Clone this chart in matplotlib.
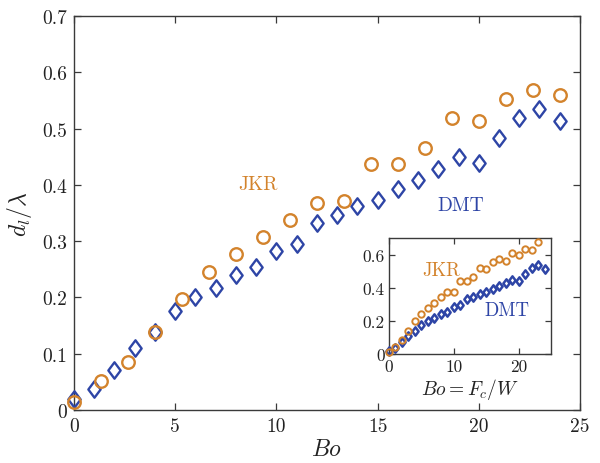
import matplotlib
matplotlib.use("Agg")
import matplotlib.pyplot as plt
from matplotlib.path import Path
from matplotlib.ticker import FuncFormatter

plt.rcParams['font.family'] = 'serif'
plt.rcParams['font.serif'] = ['cmr10', 'DejaVu Serif']
plt.rcParams['mathtext.fontset'] = 'cm'
plt.rcParams['axes.formatter.use_mathtext'] = True

# ---- main data ----
jkr_bo = [0, 1.33, 2.67, 4, 5.33, 6.67, 8, 9.33, 10.67, 12, 13.33, 14.67,
          16, 17.33, 18.67, 20, 21.33, 22.67, 24]
jkr_d = [0.015, 0.051, 0.086, 0.139, 0.198, 0.245, 0.278, 0.308, 0.337, 0.367,
         0.372, 0.437, 0.437, 0.466, 0.519, 0.514, 0.552, 0.569, 0.560]

dmt_bo = [0, 1, 2, 3, 4, 5, 6, 7, 8, 9, 10, 11, 12, 13, 14, 15, 16, 17, 18,
          19, 20, 21, 22, 23, 24]
dmt_d = [0.019, 0.038, 0.071, 0.110, 0.139, 0.176, 0.200, 0.216, 0.240, 0.254,
         0.282, 0.295, 0.332, 0.346, 0.362, 0.374, 0.393, 0.409, 0.428, 0.449,
         0.439, 0.484, 0.519, 0.535, 0.514]

# ---- inset data ----
ins_jkr_bo = [0, 1, 2, 3, 4, 5, 6, 7, 8, 9, 10, 11, 12, 13, 14, 15, 16, 17,
              18, 19, 20, 21, 22, 23]
ins_jkr_d = [0.01, 0.045, 0.086, 0.137, 0.20, 0.242, 0.277, 0.307, 0.342,
             0.373, 0.375, 0.44, 0.44, 0.467, 0.52, 0.515, 0.557, 0.574, 0.56,
             0.608, 0.60, 0.635, 0.63, 0.676]
ins_dmt_bo = dmt_bo
ins_dmt_d = dmt_d

main_xticks = [0, 5, 10, 15, 20, 25]
main_yticks = [0, 0.1, 0.2, 0.3, 0.4, 0.5, 0.6, 0.7]
ins_xticks = [0, 10, 20]
ins_yticks = [0, 0.2, 0.4, 0.6]

ORANGE = '#D3832C'
BLUE = '#2E45A6'
SPINE = '#3a3a3a'

diamond = Path([(0, 1), (0.75, 0), (0, -1), (-0.75, 0), (0, 1)],
               [Path.MOVETO, Path.LINETO, Path.LINETO, Path.LINETO, Path.CLOSEPOLY])

def fmt(v, pos):
    if abs(v) < 1e-9:
        return '0'
    if abs(v - round(v)) < 1e-9:
        return '%d' % round(v)
    return '%.1f' % v

fig = plt.figure(figsize=(6.0, 4.64), dpi=100)
ax = fig.add_axes([0.1233, 0.1142, 0.8433, 0.8491])

ax.plot(dmt_bo, dmt_d, linestyle='none', marker=diamond, markersize=11.8,
        markerfacecolor='none', markeredgecolor=BLUE, markeredgewidth=1.7,
        clip_on=False, zorder=3)
ax.plot(jkr_bo, jkr_d, linestyle='none', marker='o', markersize=9.0,
        markerfacecolor='none', markeredgecolor=ORANGE, markeredgewidth=1.7,
        clip_on=False, zorder=4)

ax.set_xlim(0, 25)
ax.set_ylim(0, 0.7)
ax.set_xticks(main_xticks)
ax.set_yticks(main_yticks)
ax.xaxis.set_major_formatter(FuncFormatter(fmt))
ax.yaxis.set_major_formatter(FuncFormatter(fmt))
ax.tick_params(direction='in', top=True, right=True, length=5, width=0.9,
               colors=SPINE, labelcolor='#222222', labelsize=14, pad=5)
for s in ax.spines.values():
    s.set_color(SPINE)
    s.set_linewidth(1.0)

ax.set_xlabel(r'$Bo$', fontsize=17, color='#222222', labelpad=2)
ax.set_ylabel(r'$d_l/\lambda$', fontsize=17, color='#222222', labelpad=6)

ax.text(9.1, 0.401, 'JKR', color=ORANGE, fontsize=14, ha='center', va='center')
ax.text(19.1, 0.365, 'DMT', color=BLUE, fontsize=14, ha='center', va='center')

# ---- inset ----
ia = fig.add_axes([0.6483, 0.2349, 0.27, 0.25])
ia.plot(ins_dmt_bo, ins_dmt_d, linestyle='none', marker=diamond, markersize=6.0,
        markerfacecolor='none', markeredgecolor=BLUE, markeredgewidth=1.8,
        clip_on=False, zorder=3)
ia.plot(ins_jkr_bo, ins_jkr_d, linestyle='none', marker='o', markersize=4.6,
        markerfacecolor='none', markeredgecolor=ORANGE, markeredgewidth=1.4,
        clip_on=False, zorder=4)
ia.set_xlim(0, 25)
ia.set_ylim(0, 0.7)
ia.set_xticks(ins_xticks)
ia.set_yticks(ins_yticks)
ia.xaxis.set_major_formatter(FuncFormatter(fmt))
ia.yaxis.set_major_formatter(FuncFormatter(fmt))
ia.tick_params(direction='in', top=True, right=True, length=4, width=0.9,
               colors=SPINE, labelcolor='#222222', labelsize=12.5, pad=3)
for s in ia.spines.values():
    s.set_color(SPINE)
    s.set_linewidth(1.0)
ia.set_xlabel(r'$Bo = F_c/W$', fontsize=14, color='#222222', labelpad=2)
ia.text(8.0, 0.505, 'JKR', color=ORANGE, fontsize=13.5, ha='center', va='center')
ia.text(18.2, 0.265, 'DMT', color=BLUE, fontsize=13.5, ha='center', va='center')

fig.savefig('out.png', dpi=100)
